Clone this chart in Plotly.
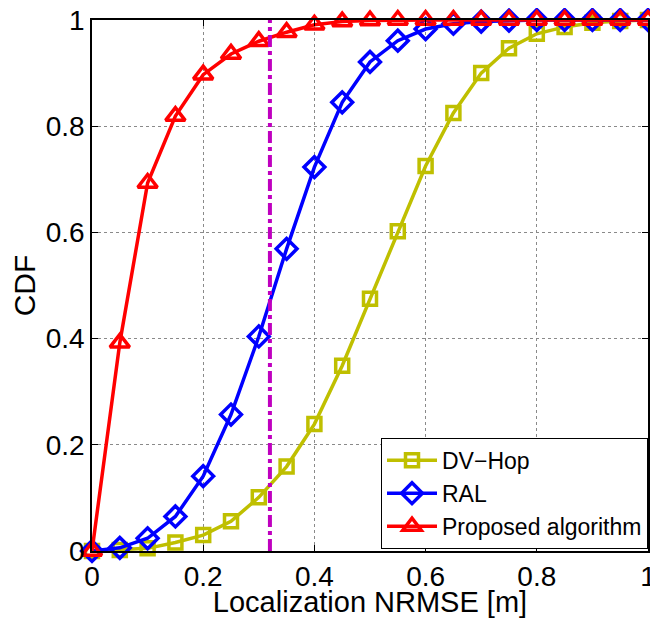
import plotly.graph_objects as go

x_vals = [0.0, 0.05, 0.1, 0.15, 0.2, 0.25, 0.3, 0.35, 0.4, 0.45, 0.5,
          0.55, 0.6, 0.65, 0.7, 0.75, 0.8, 0.85, 0.9, 0.95, 1.0]
dvhop = [0.0, 0.002, 0.005, 0.016, 0.030, 0.056, 0.101, 0.159, 0.239, 0.349, 0.475,
         0.602, 0.725, 0.825, 0.900, 0.947, 0.974, 0.987, 0.995, 0.998, 1.0]
ral = [0.0, 0.006, 0.024, 0.065, 0.141, 0.257, 0.404, 0.569, 0.723, 0.845, 0.921,
       0.961, 0.983, 0.993, 0.997, 0.999, 1.0, 1.0, 1.0, 1.0, 1.0]
proposed = [0.0, 0.392, 0.693, 0.819, 0.897, 0.936, 0.960, 0.977, 0.991, 0.997, 0.999,
            1.0, 1.0, 1.0, 1.0, 1.0, 1.0, 1.0, 1.0, 1.0, 1.0]
threshold_x = [0.32, 0.32]
threshold_y = [0.0, 1.0]
series_names = ["DV\u2212Hop", "RAL", "Proposed algorithm"]
tick_vals = [0, 0.2, 0.4, 0.6, 0.8, 1]
tick_text = ["0", "0.2", "0.4", "0.6", "0.8", "1"]

FONT = "Liberation Sans, Arial, Helvetica, sans-serif"

fig = go.Figure()
fig.add_trace(go.Scatter(
    x=x_vals, y=dvhop, name=series_names[0], mode="lines+markers",
    line=dict(color="#BFBF00", width=3.5),
    marker=dict(symbol="square-open", size=13, color="#BFBF00", line=dict(width=3.5, color="#BFBF00")),
    cliponaxis=False))
fig.add_trace(go.Scatter(
    x=x_vals, y=ral, name=series_names[1], mode="lines+markers",
    line=dict(color="#0000FF", width=3.5),
    marker=dict(symbol="diamond-open", size=16, color="#0000FF", line=dict(width=3.5, color="#0000FF")),
    cliponaxis=False))
fig.add_trace(go.Scatter(
    x=x_vals, y=proposed, name=series_names[2], mode="lines+markers",
    line=dict(color="#FF0000", width=3.5),
    marker=dict(symbol="triangle-up-open", size=17, color="#FF0000", line=dict(width=3.5, color="#FF0000")),
    cliponaxis=False))
fig.add_trace(go.Scatter(
    x=threshold_x, y=threshold_y, mode="lines", showlegend=False,
    line=dict(color="#BF00BF", width=4, dash="dashdot")))

axis_common = dict(
    range=[0, 1], tickvals=tick_vals, ticktext=tick_text, automargin=False,
    ticklabeloverflow="allow",
    showline=True, linecolor="black", linewidth=1.5, mirror="ticks",
    ticks="inside", ticklen=6, tickcolor="black", tickwidth=1,
    showgrid=True, gridcolor="#8a8a8a", gridwidth=1, griddash="dot",
    zeroline=False, tickfont=dict(family=FONT, size=28, color="black"),
)

fig.update_xaxes(**axis_common,
                 title=dict(text="Localization NRMSE [m]", font=dict(family=FONT, size=29, color="black"), standoff=0))
fig.update_yaxes(**axis_common,
                 title=dict(text="CDF", font=dict(family=FONT, size=30, color="black"), standoff=6))

# page body has an 8px margin, so the figure is sized/offset accordingly
fig.update_layout(
    width=650, height=610,
    margin=dict(l=84, r=10, t=12, b=67),
    plot_bgcolor="white", paper_bgcolor="white",
    font=dict(family=FONT, color="black"),
    legend=dict(x=1, y=0.004, xanchor="right", yanchor="bottom",
                bgcolor="white", bordercolor="black", borderwidth=1,
                font=dict(family=FONT, size=23, color="black"),
                tracegroupgap=0, itemwidth=50),
)

fig.write_html("out.html")
